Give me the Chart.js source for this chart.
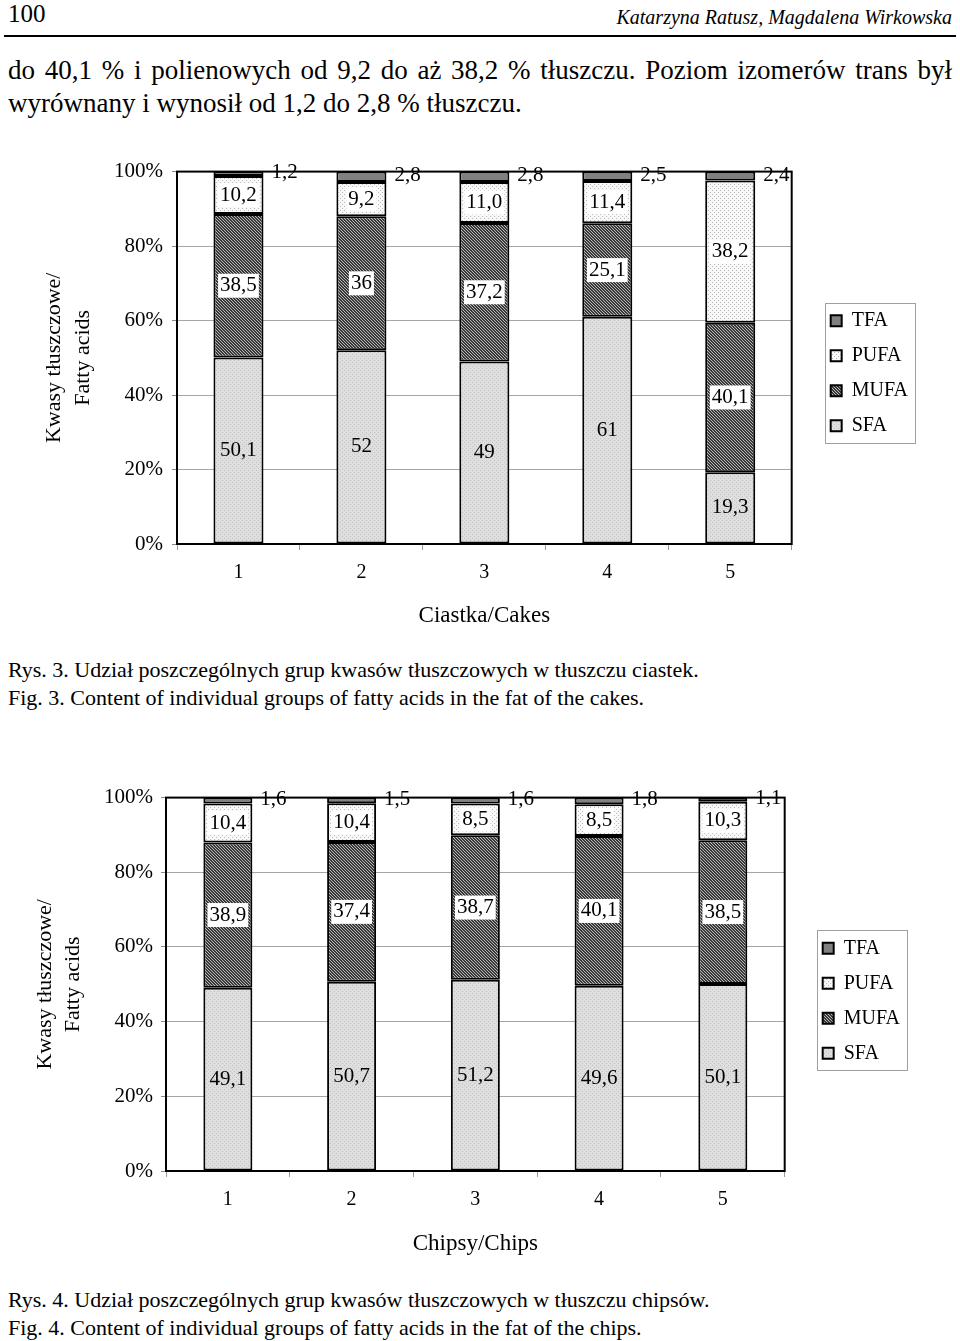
<!DOCTYPE html>
<html>
<head>
<meta charset="utf-8">
<title>Kwasy tłuszczowe w ciastkach i chipsach</title>
<script src="https://cdn.jsdelivr.net/npm/chart.js@4.4.0/dist/chart.umd.min.js"></script>
<style>
  body { margin: 0; background: #fff; font-family: "Liberation Serif", "Times New Roman", serif; color: #000; }
  .t { position: absolute; white-space: nowrap; }
  .box { position: absolute; left: 0; width: 960px; }
</style>
</head>
<body>

<div class="t" style="left:8px; top:-1px; font-size:25px; line-height:30px;">100</div>
<div class="t" style="right:8px; top:5px; font-size:20px; line-height:24px; font-style:italic;">Katarzyna Ratusz, Magdalena Wirkowska</div>
<div style="position:absolute; left:4px; top:35px; width:952px; height:2px; background:#000;"></div>

<div class="t" style="left:8px; top:53px; width:944px; font-size:27px; line-height:34px; text-align:justify; text-align-last:justify;">do 40,1 % i polienowych od 9,2 do aż 38,2 % tłuszczu. Poziom izomerów trans był</div>
<div class="t" style="left:8px; top:86px; font-size:27px; line-height:34px;">wyrównany i wynosił od 1,2 do 2,8 % tłuszczu.</div>

<div class="box" style="top:150px; height:490px;"><canvas id="cakes"></canvas></div>

<div class="t" style="left:8px; top:656px; font-size:22px; line-height:28px;">Rys. 3. Udział poszczególnych grup kwasów tłuszczowych w tłuszczu ciastek.</div>
<div class="t" style="left:8px; top:684px; font-size:22px; line-height:28px;">Fig. 3. Content of individual groups of fatty acids in the fat of the cakes.</div>

<div class="box" style="top:777px; height:494px;"><canvas id="chips"></canvas></div>

<div class="t" style="left:8px; top:1286px; font-size:22px; line-height:28px;">Rys. 4. Udział poszczególnych grup kwasów tłuszczowych w tłuszczu chipsów.</div>
<div class="t" style="left:8px; top:1314px; font-size:22px; line-height:28px;">Fig. 4. Content of individual groups of fatty acids in the fat of the chips.</div>

<script>
// categories (sample numbers)
const samples = ['1', '2', '3', '4', '5'];
const seriesNames = ['SFA', 'MUFA', 'PUFA', 'TFA'];
const yTicks = [0, 20, 40, 60, 80, 100];

// Ciastka/Cakes - % of fat (kept as printed, "11.0" stays "11,0")
const cakesSfa  = ['50.1', '52', '49', '61', '19.3'];
const cakesMufa = ['38.5', '36', '37.2', '25.1', '40.1'];
const cakesPufa = ['10.2', '9.2', '11.0', '11.4', '38.2'];
const cakesTfa  = ['1.2', '2.8', '2.8', '2.5', '2.4'];

// Chipsy/Chips
const chipsSfa  = ['49.1', '50.7', '51.2', '49.6', '50.1'];
const chipsMufa = ['38.9', '37.4', '38.7', '40.1', '38.5'];
const chipsPufa = ['10.4', '10.4', '8.5', '8.5', '10.3'];
const chipsTfa  = ['1.6', '1.5', '1.6', '1.8', '1.1'];

const FONT = '"Liberation Serif", "Times New Roman", serif';

function dotPattern(bg, fg, pts, size) {
    const c = document.createElement('canvas');
    c.width = size; c.height = size;
    const g = c.getContext('2d');
    g.fillStyle = bg;
    g.fillRect(0, 0, size, size);
    g.fillStyle = fg;
    pts.forEach(p => g.fillRect(p[0], p[1], 1, 1));
    return g.createPattern(c, 'repeat');
}

const fills = {
    SFA: dotPattern('#dedede', '#c2c2c2', [[0, 0], [2, 2]], 4),
    MUFA: dotPattern('#383838', '#b8b8b8', [[0, 0], [1, 1], [2, 2]], 3),
    PUFA: dotPattern('#f8f8f8', '#b8b8b8', [[0, 0], [2, 2]], 4),
    TFA: '#808080'
};

// plot frame, segment labels and legend frame
const decorPlugin = {
    id: 'decor',
    afterDatasetsDraw(chart) {
        const ctx = chart.ctx;
        const a = chart.chartArea;
        ctx.save();
        ctx.strokeStyle = '#000';
        ctx.lineWidth = 2;
        ctx.strokeRect(a.left, a.top, a.right - a.left, a.bottom - a.top);

        ctx.font = '21px ' + FONT;
        ctx.textBaseline = 'middle';
        chart.data.datasets.forEach((ds, di) => {
            const meta = chart.getDatasetMeta(di);
            meta.data.forEach((bar, i) => {
                const txt = String(ds.data[i]).replace('.', ',');
                const cy = (bar.y + bar.base) / 2;
                if (ds.label === 'TFA') {
                    ctx.textAlign = 'left';
                    ctx.fillStyle = '#000';
                    ctx.fillText(txt, bar.x + bar.width / 2 + 8, cy - 1);
                    return;
                }
                ctx.textAlign = 'center';
                if (ds.label !== 'SFA') {
                    const w = ctx.measureText(txt).width;
                    ctx.fillStyle = '#fff';
                    ctx.fillRect(bar.x - w / 2 - 2, cy - 12, w + 4, 24);
                }
                ctx.fillStyle = '#000';
                ctx.fillText(txt, bar.x, cy);
            });
        });
        ctx.restore();
    },
    afterDraw(chart) {
        const hb = chart.legend && chart.legend.legendHitBoxes;
        if (!hb || !hb.length) return;
        const ctx = chart.ctx;
        const left = Math.min(...hb.map(h => h.left)) - 6;
        const right = Math.max(...hb.map(h => h.left + h.width)) + 7;
        const top = hb[0].top - 8;
        const bottom = hb[hb.length - 1].top + hb[hb.length - 1].height + 7;
        ctx.save();
        ctx.strokeStyle = '#a0a0a0';
        ctx.lineWidth = 1;
        ctx.strokeRect(Math.round(left) + 0.5, Math.round(top) + 0.5, Math.round(right - left), Math.round(bottom - top));
        ctx.restore();
    }
};

function makeChart(id, title, series, cfg) {
    const data = {
        labels: samples,
        datasets: seriesNames.map((name, k) => ({
            label: name,
            data: series[k],
            backgroundColor: fills[name],
            borderColor: '#000',
            borderWidth: 2,
            borderSkipped: false,
            barPercentage: cfg.barPct,
            categoryPercentage: 1
        }))
    };
    return new Chart(document.getElementById(id), {
        type: 'bar',
        data: data,
        plugins: [decorPlugin],
        options: {
            responsive: true,
            maintainAspectRatio: false,
            animation: false,
            layout: { padding: { top: 16, left: 0, right: cfg.padRight, bottom: 0 } },
            scales: {
                x: {
                    stacked: true,
                    grid: { drawOnChartArea: false, tickLength: 6, color: '#9a9a9a' },
                    border: { color: '#000', width: 2 },
                    ticks: { color: '#000', padding: 11, font: { family: FONT, size: 20 } },
                    title: {
                        display: true, text: title, color: '#000',
                        font: { family: FONT, size: 23 },
                        padding: { top: 0, bottom: cfg.xTitleBottom }
                    },
                    afterFit: s => { s.height = cfg.xHeight; }
                },
                y: {
                    stacked: true,
                    min: 0,
                    max: 100,
                    afterBuildTicks: s => { s.ticks = yTicks.map(v => ({ value: v })); },
                    grid: { color: '#a6a6a6', lineWidth: 1, tickLength: 5, tickColor: '#8a8a8a' },
                    border: { color: '#000', width: 2 },
                    ticks: { color: '#000', padding: cfg.yPad, font: { family: FONT, size: 21 }, callback: v => v + '%' },
                    title: {
                        display: true, text: ['Kwasy tłuszczowe/', 'Fatty acids'], color: '#000',
                        font: { family: FONT, size: 22, lineHeight: cfg.yTitleLH },
                        padding: { top: cfg.yTitleTop, bottom: 0 }
                    },
                    afterFit: s => { s.width = cfg.yWidth; }
                },
                gap: {
                    type: 'linear',
                    axis: 'y',
                    position: 'right',
                    display: true,
                    grid: { display: false },
                    border: { display: false },
                    ticks: { display: false },
                    afterFit: s => { s.width = cfg.gap; }
                }
            },
            plugins: {
                tooltip: { enabled: false },
                legend: {
                    position: 'right',
                    fullSize: false,
                    reverse: true,
                    title: { display: true, text: ' ', padding: 0, font: { size: 10, lineHeight: cfg.legendShift / 10 } },
                    labels: {
                        color: '#000',
                        boxWidth: 11,
                        boxHeight: 11,
                        padding: 15,
                        font: { family: FONT, size: 20 }
                    }
                }
            }
        }
    });
}

makeChart('cakes', 'Ciastka/Cakes', [cakesSfa, cakesMufa, cakesPufa, cakesTfa], {
    barPct: 0.407, padRight: 42, gap: 24, xHeight: 96, xTitleBottom: 10,
    yWidth: 177, yPad: 9, yTitleTop: 40, yTitleLH: 1.32, legendShift: 31
});

makeChart('chips', 'Chipsy/Chips', [chipsSfa, chipsMufa, chipsPufa, chipsTfa], {
    barPct: 0.396, padRight: 50, gap: 23, xHeight: 100, xTitleBottom: 13,
    yWidth: 166, yPad: 8, yTitleTop: 31, yTitleLH: 1.273, legendShift: 33
});
</script>
</body>
</html>
